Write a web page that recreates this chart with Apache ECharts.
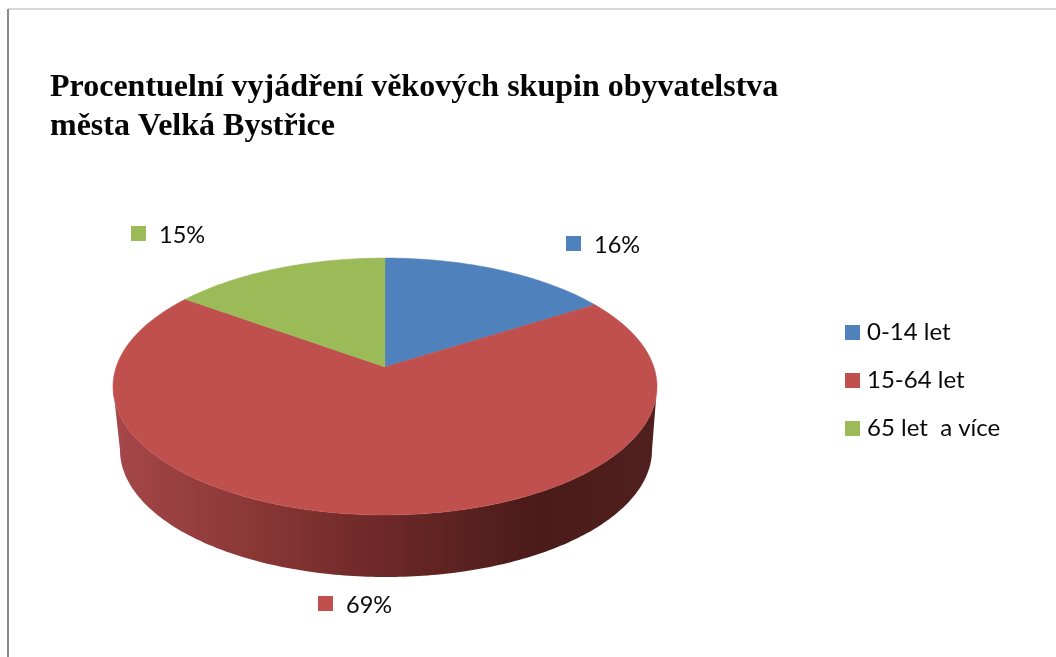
<!DOCTYPE html>
<html><head><meta charset="utf-8">
<style>html,body{margin:0;padding:0;background:#fff}#c{width:1056px;height:657px}</style>
<script src="https://cdn.jsdelivr.net/npm/echarts@6/dist/echarts.min.js"></script>
</head><body><div id="c"></div>
<script>
const titleText = "Procentuelní vyjádření věkových skupin obyvatelstva\nměsta Velká Bystřice";
const categories = ["0-14 let", "15-64 let", "65 let  a více"];
const values = [16, 69, 15];
const colors = ["#4F81BD", "#C0504D", "#9BBB59"];

const TOP = {cx: 385, cy: 386.5, rx: 272, ry: 128.5, k: -0.152};
const BOTTOM = {cx: 386, cy: 450, rx: 266, ry: 127};
const LABEL_BOX = [{x: 566, y: 236, tx: 594, ty: 245}, {x: 318, y: 596, tx: 346, ty: 605}, {x: 131, y: 226, tx: 159, ty: 235}];
const FONT = 'Lato, "Open Sans", sans-serif';

function project(frac) {
  const a = frac * 2 * Math.PI, u = Math.sin(a), v = -Math.cos(a), k = TOP.k;
  const d = 1 + k * v;
  return [TOP.cx + TOP.rx * u * Math.sqrt(1 - k * k) / d, TOP.cy + TOP.ry * (v + k) / d];
}
function ell(e, t) { return [e.cx + e.rx * Math.cos(t), e.cy + e.ry * Math.sin(t)]; }

const total = values.reduce((a, b) => a + b, 0);
let cum = 0;
const series = categories.map((name, i) => {
  const start = cum; cum += values[i];
  return {
    type: "custom", name, coordinateSystem: "none",
    itemStyle: {color: colors[i]},
    data: [[start, values[i]]],
    silent: true,
    renderItem(params, api) {
      const s = api.value(0) / total, e = s + api.value(1) / total;
      const pts = [];
      const n = Math.max(8, Math.round((e - s) * 360));
      pts.push([TOP.cx, TOP.cy + TOP.ry * TOP.k]);
      for (let j = 0; j <= n; j++) pts.push(project(s + (e - s) * j / n));
      const children = [];
      if (e - s > 0.5) {
        const wall = [];
        for (let j = 0; j <= 180; j++) wall.push(ell(TOP, Math.PI * j / 180));
        for (let j = 180; j >= 0; j--) wall.push(ell(BOTTOM, Math.PI * j / 180));
        children.push({type: "polygon", shape: {points: wall}, style: {
          fill: new echarts.graphic.LinearGradient(0, 0, 1, 0, [
            {offset: 0, color: "#A6474A"}, {offset: 0.25, color: "#8B3836"},
            {offset: 0.5, color: "#6C2827"}, {offset: 0.78, color: "#4A1B19"},
            {offset: 1, color: "#50201E"}])}});
      }
      children.push({type: "polygon", shape: {points: pts}, style: {fill: colors[i], stroke: colors[i], lineWidth: 0.5}});
      const b = LABEL_BOX[i];
      children.push({type: "rect", shape: {x: b.x, y: b.y, width: 15, height: 15}, style: {fill: colors[i]}});
      children.push({type: "text", x: b.tx, y: b.ty, style: {text: api.value(1) + "%", font: "23.5px " + FONT, fill: "#0a0a0a", verticalAlign: "middle"}});
      return {type: "group", children};
    }
  };
});

const chart = echarts.init(document.getElementById("c"), null, {renderer: "canvas"});
chart.setOption({
  animation: false,
  backgroundColor: "#fff",
  title: {text: titleText, left: 50, top: 68, padding: 0,
    textStyle: {fontFamily: '"Liberation Serif", serif', fontWeight: "bold", fontSize: 32, lineHeight: 39, color: "#050505"}},
  legend: {
    data: categories, orient: "vertical", left: 845, top: 320.5, itemWidth: 15, itemHeight: 15, itemGap: 24, padding: 0,
    icon: "rect", selectedMode: false,
    textStyle: {fontFamily: FONT, fontSize: 24, color: "#0a0a0a", padding: [0, 0, 0, 2]}
  },
  graphic: [
    {type: "line", silent: true, shape: {x1: 8, y1: 9, x2: 1056, y2: 9}, style: {stroke: "#b0b0b0", lineWidth: 1}},
    {type: "line", silent: true, shape: {x1: 8, y1: 9, x2: 8, y2: 657}, style: {stroke: "#8a8a8a", lineWidth: 2}}
  ],
  series
});
</script></body></html>
